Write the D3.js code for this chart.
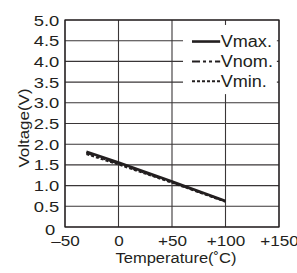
<!DOCTYPE html>
<html>
<head>
<meta charset="utf-8">
<script src="https://cdn.jsdelivr.net/npm/d3@7"></script>
<style>
  body { margin: 0; background: #fff; }
  text { font-family: "Liberation Sans", Arial, sans-serif; fill: #231f20; }
</style>
</head>
<body>
<div id="chart"></div>
<script>
// data
const temps = [-30, 0, 50, 100];
const vmax = [1.82, 1.56, 1.10, 0.63];
const vnom = [1.79, 1.53, 1.08, 0.62];
const vmin = [1.76, 1.51, 1.07, 0.61];
const seriesNames = ["Vmax.", "Vnom.", "Vmin."];
const xTicks = [-50, 0, 50, 100, 150];
const xTickLabels = ["\u201350", "0", "+50", "+100", "+150"];
const yTicks = [0, 0.5, 1, 1.5, 2, 2.5, 3, 3.5, 4, 4.5, 5];
const yTickLabels = ["0", "0.5", "1.0", "1.5", "2.0", "2.5", "3.0", "3.5", "4.0", "4.5", "5.0"];

const width = 297, height = 273;
const margin = {top: 20, right: 18, bottom: 46, left: 65};
const innerWidth = width - margin.left - margin.right;
const innerHeight = height - margin.top - margin.bottom;
const ink = "#231f20";

const svg = d3.select("#chart").append("svg")
  .attr("width", width)
  .attr("height", height);

const g = svg.append("g")
  .attr("transform", `translate(${margin.left},${margin.top})`);

const x = d3.scaleLinear().domain([-50, 150]).range([0, innerWidth]);
const y = d3.scaleLinear().domain([0, 5]).range([innerHeight, 0]);

// grid
g.append("g").selectAll("line")
  .data(yTicks)
  .enter().append("line")
  .attr("x1", 0).attr("x2", innerWidth)
  .attr("y1", d => y(d)).attr("y2", d => y(d))
  .attr("stroke", "#3a3637").attr("stroke-width", 1.1);

g.append("g").selectAll("line")
  .data(xTicks)
  .enter().append("line")
  .attr("x1", d => x(d)).attr("x2", d => x(d))
  .attr("y1", 0).attr("y2", innerHeight)
  .attr("stroke", "#3a3637").attr("stroke-width", 1.1);

// legend background hides grid
const legX = x(60.3), legY = y(4.88);
g.append("rect")
  .attr("x", legX).attr("y", legY)
  .attr("width", x(148) - legX).attr("height", y(3.21) - legY)
  .attr("fill", "#fff");

// frame
g.append("rect")
  .attr("x", 0).attr("y", 0)
  .attr("width", innerWidth).attr("height", innerHeight)
  .attr("fill", "none").attr("stroke", ink).attr("stroke-width", 1.2);

// axes labels (glyphs in the source are a bit wide, so stretch them)
const xAxis = d3.axisBottom(x).tickValues(xTicks)
  .tickFormat((d, i) => xTickLabels[i]).tickSize(0).tickPadding(9);
g.append("g")
  .attr("transform", `translate(0,${innerHeight})`)
  .call(xAxis)
  .call(s => s.select(".domain").remove())
  .selectAll("text")
  .attr("font-size", 14.5)
  .attr("transform", "scale(1.18,1)")
  .style("fill", ink);

const yAxis = d3.axisLeft(y).tickValues(yTicks)
  .tickFormat((d, i) => yTickLabels[i]).tickSize(0).tickPadding(4.5);
g.append("g")
  .call(yAxis)
  .call(s => s.select(".domain").remove())
  .selectAll("text")
  .attr("font-size", 14.5)
  .attr("transform", "scale(1.27,1)")
  .style("fill", ink)
  .attr("dx", d => d === 0 ? -3.2 : 0)
  .attr("dy", d => d === 0 ? "0.5em" : "0.35em");

// series
const styles = [
  {data: vmax, dash: null, w: 2.6},
  {data: vnom, dash: "8,3,3,3,3,3", w: 2},
  {data: vmin, dash: "3,2", w: 2}
];
const line = d3.line().x(d => x(d[0])).y(d => y(d[1]));
styles.forEach(s => {
  g.append("path")
    .attr("d", line(temps.map((t, i) => [t, s.data[i]])))
    .attr("fill", "none").attr("stroke", ink)
    .attr("stroke-width", s.w)
    .attr("stroke-dasharray", s.dash);
});

// legend
const legRows = [4.48, 4.0, 3.52];
styles.forEach((s, i) => {
  const ly = y(legRows[i]);
  g.append("line")
    .attr("x1", x(68.7)).attr("x2", x(95))
    .attr("y1", ly).attr("y2", ly)
    .attr("stroke", ink).attr("stroke-width", s.w)
    .attr("stroke-dasharray", s.dash);
  g.append("text")
    .attr("transform", `translate(${x(95.5)},${ly}) scale(1.13,1)`)
    .attr("dy", "0.36em")
    .attr("font-size", 16)
    .text(seriesNames[i]);
});

// titles
svg.append("text")
  .attr("transform", "translate(176,263) scale(1.1,1)")
  .attr("text-anchor", "middle").attr("font-size", 15)
  .text("Temperature(\u02daC)");

svg.append("text")
  .attr("transform", "translate(29,128) rotate(-90) scale(1.13,1)")
  .attr("text-anchor", "middle").attr("font-size", 15)
  .text("Voltage(V)");
</script>
</body>
</html>
